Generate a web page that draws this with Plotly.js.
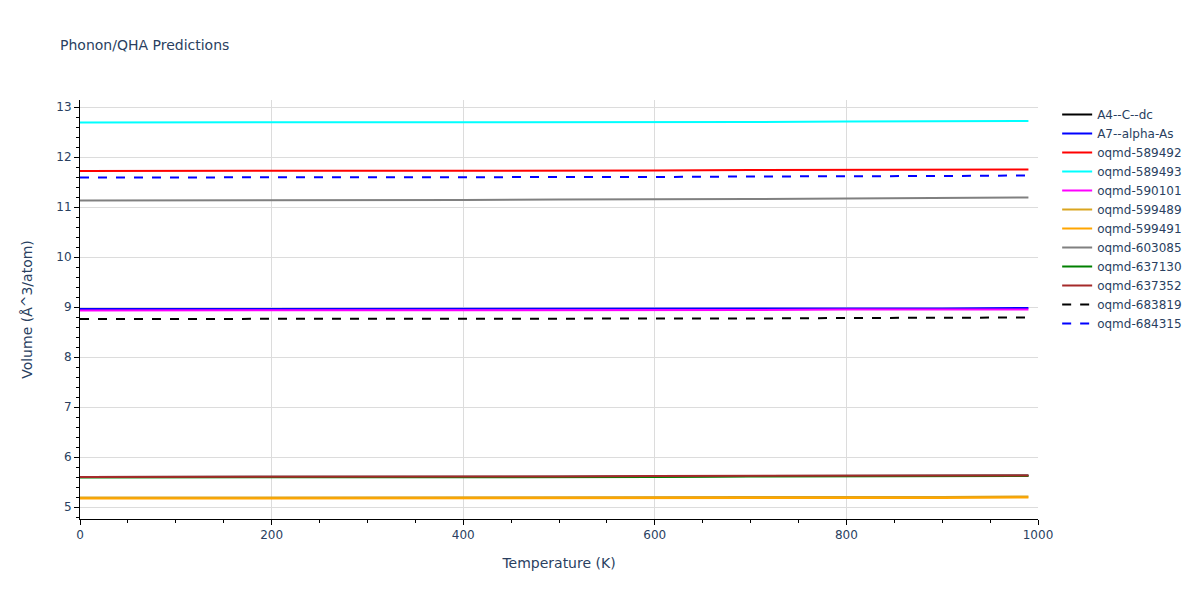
<!DOCTYPE html>
<html>
<head>
<meta charset="utf-8">
<script src="https://cdn.plot.ly/plotly-3.0.1.min.js"></script>
<style>html,body{margin:0;padding:0;background:#fff;}</style>
</head>
<body>
<div id="chart" style="width:1200px;height:600px;"></div>
<script>
var temperature = [0, 100, 200, 300, 400, 500, 600, 700, 800, 900, 990];

var seriesNames = ["A4--C--dc", "A7--alpha-As", "oqmd-589492", "oqmd-589493", "oqmd-590101",
  "oqmd-599489", "oqmd-599491", "oqmd-603085", "oqmd-637130", "oqmd-637352", "oqmd-683819", "oqmd-684315"];

var vol_A4_C_dc     = [5.60, 5.60, 5.60, 5.60, 5.61, 5.61, 5.61, 5.62, 5.62, 5.62, 5.63];
var vol_A7_alpha_As = [8.96, 8.96, 8.96, 8.96, 8.96, 8.96, 8.96, 8.97, 8.97, 8.97, 8.98];
var vol_589492      = [11.72, 11.72, 11.72, 11.72, 11.73, 11.73, 11.73, 11.74, 11.74, 11.74, 11.75];
var vol_589493      = [12.69, 12.69, 12.69, 12.69, 12.69, 12.70, 12.70, 12.70, 12.71, 12.71, 12.72];
var vol_590101      = [8.93, 8.93, 8.93, 8.93, 8.94, 8.94, 8.94, 8.94, 8.95, 8.95, 8.95];
var vol_599489      = [5.19, 5.19, 5.19, 5.19, 5.19, 5.19, 5.19, 5.19, 5.19, 5.20, 5.21];
var vol_599491      = [5.17, 5.17, 5.17, 5.18, 5.18, 5.18, 5.18, 5.18, 5.18, 5.18, 5.19];
var vol_603085      = [11.13, 11.13, 11.13, 11.14, 11.14, 11.15, 11.15, 11.16, 11.17, 11.18, 11.19];
var vol_637130      = [5.59, 5.59, 5.59, 5.59, 5.60, 5.60, 5.60, 5.61, 5.61, 5.61, 5.62];
var vol_637352      = [5.60, 5.60, 5.60, 5.61, 5.61, 5.61, 5.62, 5.62, 5.62, 5.62, 5.63];
var vol_683819      = [8.76, 8.76, 8.76, 8.76, 8.77, 8.77, 8.77, 8.77, 8.78, 8.78, 8.79];
var vol_684315      = [11.59, 11.59, 11.59, 11.59, 11.59, 11.60, 11.60, 11.61, 11.61, 11.62, 11.63];

var seriesValues = [vol_A4_C_dc, vol_A7_alpha_As, vol_589492, vol_589493, vol_590101,
  vol_599489, vol_599491, vol_603085, vol_637130, vol_637352, vol_683819, vol_684315];

var colors = ["black", "blue", "red", "cyan", "magenta", "goldenrod", "orange", "grey", "green", "brown", "black", "blue"];
var dashes = ["solid", "solid", "solid", "solid", "solid", "solid", "solid", "solid", "solid", "solid", "dash", "dash"];

var traces = seriesNames.map(function (name, i) {
  return {
    x: temperature,
    y: seriesValues[i],
    name: name,
    type: "scatter",
    mode: "lines",
    line: {color: colors[i], width: 2, dash: dashes[i]}
  };
});

var layout = {
  width: 1200,
  height: 600,
  paper_bgcolor: "white",
  plot_bgcolor: "white",
  font: {family: "DejaVu Sans, Verdana, sans-serif", size: 12, color: "#2a3f5f"},
  title: {text: "Phonon/QHA Predictions", x: 0.05, font: {size: 14}},
  margin: {l: 80, r: 162, t: 100, b: 81},
  xaxis: {
    title: {text: "Temperature (K)", font: {size: 14}, standoff: 16},
    automargin: false,
    range: [0, 1000],
    dtick: 200,
    showgrid: true,
    gridcolor: "#dcdcdc",
    zeroline: false,
    showline: true,
    linecolor: "black",
    linewidth: 1,
    ticks: "outside",
    tickcolor: "black",
    ticklen: 5,
    minor: {dtick: 50, ticks: "outside", ticklen: 3, tickcolor: "black", showgrid: false}
  },
  yaxis: {
    title: {text: "Volume (Å^3/atom)", font: {size: 14}, standoff: 20},
    automargin: false,
    range: [4.76, 13.14],
    dtick: 1,
    showgrid: true,
    gridcolor: "#dcdcdc",
    zeroline: false,
    showline: true,
    linecolor: "black",
    linewidth: 1,
    ticks: "outside",
    tickcolor: "black",
    ticklen: 5,
    minor: {dtick: 0.2, ticks: "outside", ticklen: 3, tickcolor: "black", showgrid: false}
  },
  legend: {font: {size: 12}},
  showlegend: true
};

Plotly.newPlot("chart", traces, layout, {displayModeBar: false});
</script>
</body>
</html>
